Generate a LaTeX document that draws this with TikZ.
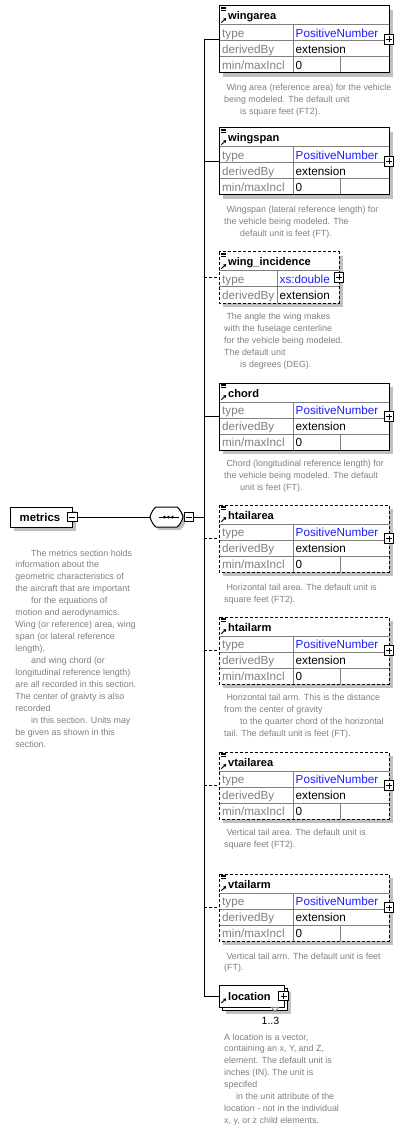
\documentclass[tikz,border=0pt]{standalone}
\usepackage{fontspec}
\setmainfont{Liberation Sans}
\usetikzlibrary{arrows.meta}
\definecolor{txtgray}{RGB}{128,128,128}
\definecolor{gridgray}{RGB}{128,128,128}
\definecolor{shadowgray}{RGB}{192,192,192}
\definecolor{typeblue}{RGB}{30,30,255}
\tikzset{
  border/.style={draw=black, line width=1pt},
  dashedborder/.style={draw=black, line width=1pt, dash pattern=on 3pt off 2pt},
  conn/.style={line width=1pt},
  dashedconn/.style={line width=1pt, dash pattern=on 3pt off 2pt},
  grid line/.style={draw=gridgray, line width=1pt},
  hdr/.style={font=\fontsize{11.1}{13}\selectfont\bfseries, inner sep=0pt, anchor=base west},
  lbl/.style={font=\fontsize{11.7}{14}\selectfont, text=txtgray, inner sep=0pt, anchor=base west},
  val/.style={font=\fontsize{11.7}{14}\selectfont, text=black, inner sep=0pt, anchor=base west},
  tval/.style={val, text=typeblue},
  desc/.style={font=\fontsize{8.9}{11.95}\selectfont, text=txtgray, inner sep=0pt, anchor=north west, align=left},
  pmbox/.style={draw=black, fill=white, line width=0.8pt, minimum size=9.5pt, inner sep=0pt},
  shadow/.style={fill=shadowgray},
  boxbody/.style={fill=white, inner sep=0pt, outer sep=0pt, anchor=north west},
}
\newcommand\PlusAt[3]{%
  \node[pmbox] (#1) at (#2,#3) {};
  \draw[line width=0.8pt] ([xshift=-3pt]#1.center) -- ([xshift=3pt]#1.center) ([yshift=-3pt]#1.center) -- ([yshift=3pt]#1.center);
}
\newcommand\MinusAt[3]{%
  \node[pmbox] (#1) at (#2,#3) {};
  \draw[line width=0.8pt] ([xshift=-3pt]#1.center) -- ([xshift=3pt]#1.center);
}
\newcommand\ListIcon[1]{\draw[line width=0.6pt] (221,#1+1.2) -- (226,#1+1.2) (221,#1+2.7) -- (226,#1+2.7) (221,#1+4.2) -- (226,#1+4.2);}
\newcommand\RefArrow[1]{\draw[line width=0.9pt,-{Triangle[length=2.6pt,width=3.2pt]}] (221.3,#1) -- (226.2,#1-4.6);}
\newcommand\ElemThree[5]{%
  \fill[shadow] (223,#2+4) rectangle (393,#2+71);
  \node[boxbody, minimum width=170pt, minimum height=67pt] (#1) at (219,#2) {};
  \draw[grid line] (219,#2+19) -- (389,#2+19) (219,#2+35) -- (389,#2+35) (219,#2+51) -- (389,#2+51) (293,#2+19) -- (293,#2+67) (340,#2+51) -- (340,#2+67);
  \draw[#3] (#1.north west) rectangle (#1.south east);
  \ListIcon{#2}
  \RefArrow{#2+16.7}
  \node[hdr] (#1name) at (228,#2+14) {#4};
  \node[lbl] (#1la) at (222,#2+31.5) {type};
  \node[lbl] (#1lb) at (222,#2+47.5) {derivedBy};
  \node[lbl] (#1lc) at (222,#2+63.5) {min/maxIncl};
  \node[tval] (#1va) at (295.5,#2+31.5) {#5};
  \node[val] (#1vb) at (295.5,#2+47.5) {extension};
  \node[val] (#1vc) at (295.5,#2+63.5) {0};
  \PlusAt{#1plus}{389}{#2+33.5}
}
\begin{document}
\begin{tikzpicture}[x=1pt,y=-1pt]
\fill[white] (0,0) rectangle (404,1131);
\useasboundingbox (0,0) rectangle (404,1131);

% root element
\fill[shadow] (14,511) rectangle (76,531);
\node[boxbody, draw=black, line width=1pt, minimum width=62pt, minimum height=20pt] (metrics) at (10,507) {};
\node[hdr, font=\fontsize{11.4}{13}\selectfont\bfseries] (metricsname) at (19.5,521.5) {metrics};
\MinusAt{metricsminus}{72.3}{517}

% sequence compositor
\fill[shadow] (159,510) -- (180,510) .. controls (182.5,511.5) and (185,516) .. (186,520) .. controls (185,524) and (182.5,528.5) .. (180,530) -- (159,530) .. controls (156.5,528.5) and (154,524) .. (153,520) .. controls (154,516) and (156.5,511.5) .. (159,510) -- cycle;
\draw[line width=1pt, fill=white] (156,507) -- (177,507) .. controls (179.5,508.5) and (182,513) .. (183,517) .. controls (182,521) and (179.5,525.5) .. (177,527) -- (156,527) .. controls (153.5,525.5) and (151,521) .. (150,517) .. controls (151,513) and (153.5,508.5) .. (156,507) -- cycle;
\node[inner sep=0pt, outer sep=0pt, minimum width=33pt, minimum height=20pt] (seq) at (166.5,517) {};
\draw[line width=1pt] (159,517) -- (178.5,517);
\fill (164.5,517) circle (1.5pt) (168.5,517) circle (1.5pt) (172.5,517) circle (1.5pt);
\MinusAt{seqminus}{189}{517}
\coordinate (spine) at (204,517);
\draw[conn] (metricsminus.east) -- (seq.west);
\draw[conn] (seqminus.east) -- (spine);

% children
\ElemThree{wingarea}{6}{border}{wingarea}{PositiveNumber}
\ElemThree{wingspan}{128}{border}{wingspan}{PositiveNumber}

% wing_incidence (two rows)
\fill[shadow] (223,256) rectangle (343,307);
\node[boxbody, minimum width=120pt, minimum height=51pt] (winginc) at (219,252) {};
\draw[grid line] (219,271) -- (339,271) (219,287) -- (339,287) (277,271) -- (277,303);
\draw[dashedborder] (winginc.north west) rectangle (winginc.south east);
\ListIcon{252}
\RefArrow{268.7}
\node[hdr] (wingincname) at (228,266) {wing\_incidence};
\node[lbl] (wingincla) at (222,283.5) {type};
\node[lbl] (winginclb) at (222,299.5) {derivedBy};
\node[tval] (wingincva) at (279.5,283.5) {xs:double};
\node[val] (wingincvb) at (279.5,299.5) {extension};
\PlusAt{wingincplus}{339}{277.5}

\ElemThree{chord}{383}{border}{chord}{PositiveNumber}
\ElemThree{htailarea}{505}{dashedborder}{htailarea}{PositiveNumber}
\ElemThree{htailarm}{617}{dashedborder}{htailarm}{PositiveNumber}
\ElemThree{vtailarea}{752}{dashedborder}{vtailarea}{PositiveNumber}
\ElemThree{vtailarm}{874}{dashedborder}{vtailarm}{PositiveNumber}

% location (1..3)
\fill[shadow] (226,992) rectangle (291,1014);
\draw[border, fill=white] (222,988) rectangle (287,1010);
\node[boxbody, draw=black, line width=1pt, minimum width=65pt, minimum height=22pt] (location) at (219,985) {};
\RefArrow{1003}
\node[hdr] (locationname) at (228,1000.5) {location};
\PlusAt{locationplus}{283.5}{996}
\draw[gridgray, fill=white, line width=0.8pt] (271.5,1007.5) -- (278.5,1007.5) -- (275,1011.5) -- cycle;
\node[val, font=\fontsize{10.5}{12}\selectfont] (locationocc) at (261.5,1024) {1..3};

% connectors
\draw[conn] (wingarea.west -| spine) -- (location.west -| spine);
\draw[conn] (wingarea.west -| spine) -- (wingarea.west);
\draw[conn] (wingspan.west -| spine) -- (wingspan.west);
\draw[dashedconn] (winginc.west -| spine) -- (winginc.west);
\draw[conn] (chord.west -| spine) -- (chord.west);
\draw[dashedconn] (htailarea.west -| spine) -- (htailarea.west);
\draw[dashedconn] (htailarm.west -| spine) -- (htailarm.west);
\draw[dashedconn] (vtailarea.west -| spine) -- (vtailarea.west);
\draw[dashedconn] (vtailarm.west -| spine) -- (vtailarm.west);
\draw[conn] (location.west -| spine) -- (location.west);

% descriptions
\node[desc] (dmetrics) at (15.3,555.8-8.37) {\strut\hspace*{15.7pt}The metrics section holds\\information about the\\geometric characteristics of\\the aircraft that are important\\\hspace*{15.7pt}for the equations of\\motion and aerodynamics.\\Wing (or reference) area, wing\\span (or lateral reference\\length),\\\hspace*{15.7pt}and wing chord (or\\longitudinal reference length)\\are all recorded in this section.\\The center of graivty is also\\recorded\\\hspace*{15.7pt}in this section. Units may\\be given as shown in this\\section.};
\node[desc] (dwingarea) at (224,90-8.37) {\strut\hspace*{2.3pt}Wing area (reference area) for the vehicle\\being modeled. The default unit\\\hspace*{16pt}is square feet (FT2).};
\node[desc] (dwingspan) at (224,212.8-8.37) {\strut\hspace*{2.3pt}Wingspan (lateral reference length) for\\the vehicle being modeled. The\\\hspace*{16pt}default unit is feet (FT).};
\node[desc] (dwinginc) at (224,319.5-8.37) {\strut\hspace*{2.3pt}The angle the wing makes\\with the fuselage centerline\\for the vehicle being modeled.\\The default unit\\\hspace*{16pt}is degrees (DEG).};
\node[desc] (dchord) at (224,466.8-8.37) {\strut\hspace*{2.3pt}Chord (longitudinal reference length) for\\the vehicle being modeled. The default\\\hspace*{16pt}unit is feet (FT).};
\node[desc] (dhtailarea) at (224,590.5-8.37) {\strut\hspace*{2.3pt}Horizontal tail area. The default unit is\\square feet (FT2).};
\node[desc] (dhtailarm) at (224,700.5-8.37) {\strut\hspace*{2.3pt}Horizontal tail arm. This is the distance\\from the center of gravity\\\hspace*{16pt}to the quarter chord of the horizontal\\tail. The default unit is feet (FT).};
\node[desc] (dvtailarea) at (224,835.5-8.37) {\strut\hspace*{2.3pt}Vertical tail area. The default unit is\\square feet (FT2).};
\node[desc] (dvtailarm) at (224,958.8-8.37) {\strut\hspace*{2.3pt}Vertical tail arm. The default unit is feet\\(FT).};
\node[desc] (dlocation) at (224,1039.8-8.37) {\strut A location is a vector,\\containing an x, Y, and Z,\\element. The default unit is\\inches (IN). The unit is\\specifed\\\hspace*{12pt}in the unit attribute of the\\location - not in the individual\\x, y, or z child elements.};
\end{tikzpicture}
\end{document}
